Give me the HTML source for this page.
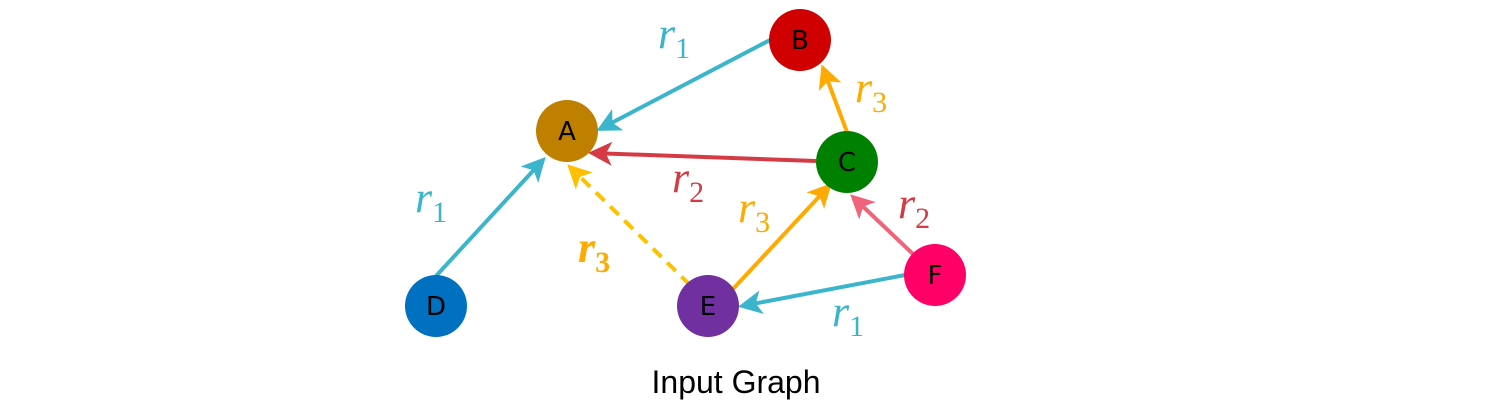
<!DOCTYPE html>
<html><head><meta charset="utf-8"><style>
html,body{margin:0;padding:0;background:#fff;}
svg{display:block;}
.n{font-family:"DejaVu Sans","Liberation Sans",sans-serif;font-size:26px;fill:#000;text-anchor:middle;dominant-baseline:central;}
.l{font-family:"Liberation Serif",serif;font-style:italic;font-size:44px;}
.s{font-family:"Liberation Serif",serif;font-style:normal;font-size:30px;}
</style></head><body>
<svg width="1494" height="414" viewBox="0 0 1494 414" xmlns="http://www.w3.org/2000/svg">
<defs>
<marker id="cy" markerWidth="6" markerHeight="6" refX="5" refY="3" orient="auto" markerUnits="strokeWidth"><path d="M0,0 L6,3 L0,6 L1.5,3 z" fill="#3BB5CC"/></marker>
<marker id="rd" markerWidth="6" markerHeight="6" refX="5" refY="3" orient="auto" markerUnits="strokeWidth"><path d="M0,0 L6,3 L0,6 L1.5,3 z" fill="#D43B45"/></marker>
<marker id="yl" markerWidth="6" markerHeight="6" refX="5" refY="3" orient="auto" markerUnits="strokeWidth"><path d="M0,0 L6,3 L0,6 L1.5,3 z" fill="#FFC000"/></marker>
<marker id="or" markerWidth="6" markerHeight="6" refX="5" refY="3" orient="auto" markerUnits="strokeWidth"><path d="M0,0 L6,3 L0,6 L1.5,3 z" fill="#FFAA00"/></marker>
<marker id="pk" markerWidth="6" markerHeight="6" refX="5" refY="3" orient="auto" markerUnits="strokeWidth"><path d="M0,0 L6,3 L0,6 L1.5,3 z" fill="#F0647A"/></marker>
</defs>
<g stroke-width="4" fill="none">
<line x1="770" y1="40" x2="600" y2="129" stroke="#3BB5CC" marker-end="url(#cy)"/>
<line x1="436" y1="276" x2="543" y2="160" stroke="#3BB5CC" marker-end="url(#cy)"/>
<line x1="816" y1="161" x2="592" y2="153" stroke="#D43B45" marker-end="url(#rd)"/>
<line x1="690" y1="285" x2="570" y2="167" stroke="#FFC000" stroke-dasharray="12,8" marker-end="url(#yl)"/>
<line x1="847" y1="132" x2="823" y2="68" stroke="#FFAA00" marker-end="url(#or)"/>
<line x1="733" y1="289" x2="829" y2="186" stroke="#FFAA00" marker-end="url(#or)"/>
<line x1="914" y1="255" x2="853" y2="197" stroke="#F0647A" marker-end="url(#pk)"/>
<line x1="905" y1="275" x2="742" y2="306" stroke="#3BB5CC" marker-end="url(#cy)"/>
</g>
<circle cx="567" cy="131" r="31" fill="#BF8000"/><text class="n" x="567" y="132">A</text>
<circle cx="800" cy="40" r="31" fill="#D00000"/><text class="n" x="800" y="41">B</text>
<circle cx="847" cy="162" r="31" fill="#008000"/><text class="n" x="847" y="163">C</text>
<circle cx="436" cy="306" r="31" fill="#0070C0"/><text class="n" x="436" y="307">D</text>
<circle cx="708" cy="306" r="31" fill="#7030A0"/><text class="n" x="708" y="307">E</text>
<circle cx="935" cy="275" r="31" fill="#FF0066"/><text class="n" x="935" y="276">F</text>
<g class="l">
<text x="658" y="48" fill="#3BB5CC">r<tspan class="s" dy="10">1</tspan></text>
<text x="855" y="102" fill="#FFAA00">r<tspan class="s" dy="10">3</tspan></text>
<text x="672" y="192" fill="#D43B45">r<tspan class="s" dy="10">2</tspan></text>
<text x="415" y="212" fill="#3BB5CC">r<tspan class="s" dy="10">1</tspan></text>
<text x="578" y="262" fill="#FFAA00" font-weight="bold">r<tspan class="s" dy="10" font-weight="bold">3</tspan></text>
<text x="738" y="222" fill="#FFAA00">r<tspan class="s" dy="10">3</tspan></text>
<text x="898" y="218" fill="#D43B45">r<tspan class="s" dy="10">2</tspan></text>
<text x="832" y="326" fill="#3BB5CC">r<tspan class="s" dy="10">1</tspan></text>
</g>
<text x="736" y="393" font-family="Liberation Sans, sans-serif" font-size="32" text-anchor="middle" fill="#000">Input Graph</text>
</svg>
</body></html>
